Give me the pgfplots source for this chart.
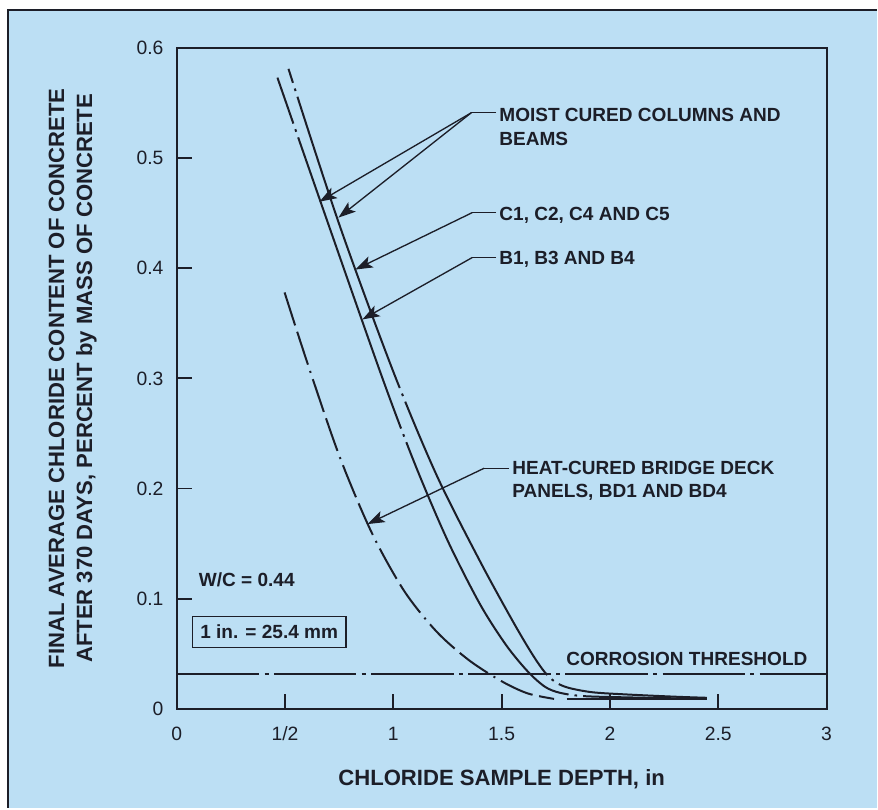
\documentclass[border=0pt]{standalone}
\usepackage{fontspec}
\setmainfont{Liberation Sans}
\usepackage{pgfplots}
\pgfplotsset{compat=1.18}
\usetikzlibrary{arrows.meta}
\definecolor{bg}{RGB}{188,223,244}
\definecolor{ink}{RGB}{28,30,40}
% pixel grid of the reference, origin at its top-left corner
\tikzset{px/.style={x=0.75pt,y=-0.75pt,shift={(-132.75pt,532.5pt)}},
  note/.style={font=\bfseries\fontsize{14.3}{17}\selectfont, text=ink, inner sep=0pt, anchor=base west},
  lead/.style={ink, line width=1pt},
  arr/.style={ink, line width=1pt, -{Stealth[length=13pt,width=9pt,inset=3pt]}}}

\begin{document}
\begin{tikzpicture}
\begin{scope}[px]
  \fill[white] (0,0) rectangle (878,809);
  \fill[bg] (8,10) rectangle (878,809);
  \draw[ink, line width=2.2pt] (8,809) -- (8,10) -- (878,10);
\end{scope}

\begin{axis}[
  scale only axis, width=488.25pt, height=496.5pt,
  xmin=0, xmax=3, ymin=0, ymax=0.6,
  axis line style={ink, line width=1.4pt},
  tick align=inside, tick pos=left, major tick length=11.25pt,
  tick style={ink, line width=1.4pt},
  xtick={0,0.5,1,1.5,2,2.5,3}, xticklabels={0,1/2,1,1.5,2,2.5,3},
  ytick={0,0.1,0.2,0.3,0.4,0.5,0.6}, yticklabels={0,0.1,0.2,0.3,0.4,0.5,0.6},
  /pgf/number format/assume math mode=true,
  tick label style={font=\fontsize{14.5}{17}\selectfont, text=ink},
  xticklabel style={yshift=-10pt},
  yticklabel style={xshift=-6.4pt},
  xlabel={CHLORIDE SAMPLE DEPTH, in},
  ylabel={FINAL AVERAGE CHLORIDE CONTENT OF CONCRETE\\AFTER 370 DAYS, PERCENT by MASS OF CONCRETE},
  label style={font=\bfseries\fontsize{16.6}{21}\selectfont, text=ink},
  xlabel style={at={(axis description cs:0.5,-0.1163)}, anchor=base},
  ylabel style={at={(axis description cs:-0.160,0.5)}, anchor=center, align=center},
]
% corrosion threshold
\addplot[ink, line width=1.4pt, dash pattern=on 62pt off 4pt on 3pt off 4pt]
  coordinates {(0,0.0315) (3,0.0315)};
% B1, B3 and B4
\addplot[ink, line width=1.5pt, smooth, dash pattern=on 232pt off 4.5pt on 2pt off 4.5pt, dash phase=195.5pt]
  coordinates {(0.465,0.573) (0.70,0.440) (0.95,0.300) (1.10,0.222) (1.25,0.153)
    (1.40,0.095) (1.52,0.058) (1.62,0.034) (1.70,0.020) (1.77,0.0145)
    (1.88,0.0115) (2.10,0.0103) (2.442,0.009)};
% C1, C2, C4 and C5
\addplot[ink, line width=1.5pt, smooth, dash pattern=on 232pt off 4.5pt on 2pt off 4.5pt, dash phase=221pt]
  coordinates {(0.516,0.581) (0.75,0.440) (1.00,0.306) (1.20,0.212) (1.40,0.134)
    (1.55,0.080) (1.64,0.050) (1.70,0.033) (1.75,0.024) (1.81,0.019)
    (1.92,0.015) (2.08,0.013) (2.30,0.011) (2.447,0.010)};
% heat-cured bridge deck panels
\addplot[ink, line width=1.5pt, smooth, dash pattern=on 26pt off 5pt on 26pt off 5pt on 1.5pt off 5pt]
  coordinates {(0.498,0.378) (0.60,0.316) (0.75,0.230) (0.90,0.160) (1.05,0.107)
    (1.20,0.070) (1.35,0.044) (1.50,0.025) (1.62,0.014) (1.742,0.009)};
\addplot[ink, line width=1.5pt]
  coordinates {(1.80,0.009) (2.447,0.009)};
\end{axis}

\begin{scope}[px]
  \node[note] at (500,122) {MOIST CURED COLUMNS AND};
  \node[note] at (500,146) {BEAMS};
  \draw[lead] (497,113) -- (472,113);
  \draw[arr] (472,113) -- (320,202);
  \draw[arr] (472,113) -- (339,218);

  \node[note] at (500,221) {C1, C2, C4 AND C5};
  \draw[lead] (497,213) -- (473,213);
  \draw[arr] (473,213) -- (356,270);

  \node[note] at (500,265) {B1, B3 AND B4};
  \draw[lead] (497,258) -- (473,258);
  \draw[arr] (473,258) -- (363,320);

  \node[note] at (513,475) {HEAT-CURED BRIDGE DECK};
  \node[note] at (513,498) {PANELS, BD1 AND BD4};
  \draw[lead] (510,469) -- (485,469);
  \draw[arr] (485,469) -- (368,525);

  \node[note] at (199,587) {W/C = 0.44};
  \node[note, draw=ink, line width=1pt, inner xsep=6pt, inner ysep=6.5pt] at (192,640) {1 in. = 25.4 mm};
  \node[note] at (567,667) {CORROSION THRESHOLD};
\end{scope}
\end{tikzpicture}
\end{document}
